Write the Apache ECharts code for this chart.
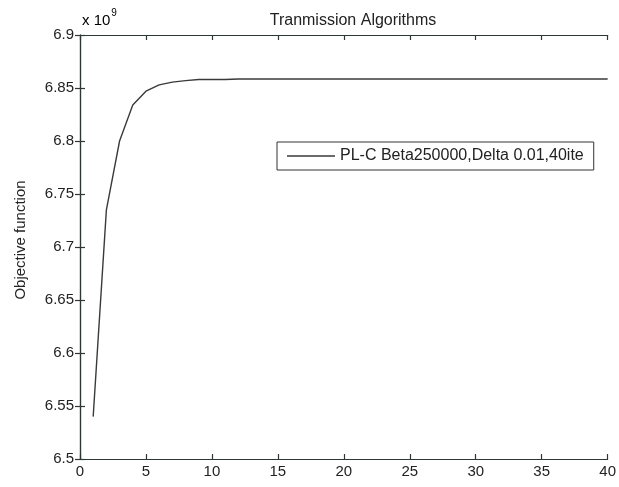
<!DOCTYPE html>
<html>
<head>
<meta charset="utf-8">
<script src="https://cdn.jsdelivr.net/npm/echarts@6/dist/echarts.min.js"></script>
<style>
  html, body { margin: 0; padding: 0; background: #fff; }
  #chart { width: 619px; height: 487px; }
</style>
</head>
<body>
<div id="chart"></div>
<script>
// Iterations of the transmission algorithm
const iterations = [1,2,3,4,5,6,7,8,9,10,11,12,13,14,15,16,17,18,19,20,21,22,23,24,25,26,27,28,29,30,31,32,33,34,35,36,37,38,39,40];
// Objective function value (x 10^9) per iteration
const objective = [6.540,6.735,6.800,6.834,6.847,6.853,6.8555,6.857,6.858,6.858,6.858,6.8585,6.8585,6.8585,6.8585,6.8585,6.8585,6.8585,6.8585,6.8585,6.8585,6.8585,6.8585,6.8585,6.8585,6.8585,6.8585,6.8585,6.8585,6.8585,6.8585,6.8585,6.8585,6.8585,6.8585,6.8585,6.8585,6.8585,6.8585,6.8585];
const seriesName = 'PL-C Beta250000,Delta 0.01,40ite';
const xTicks = { min: 0, max: 40, step: 5 };
const yTicks = { min: 6.5, max: 6.9, step: 0.05 };

const axisColor = '#2e3833';
const font = 'Liberation Sans, Arial, sans-serif';
const fmtY = v => String(parseFloat(v.toFixed(2)));

const chart = echarts.init(document.getElementById('chart'), null, { renderer: 'canvas' });
const commonAxisLine = { show: true, lineStyle: { color: axisColor, width: 1.2 } };
const commonTick = { show: true, inside: true, length: 5, lineStyle: { color: axisColor, width: 1.2 } };

chart.setOption({
  animation: false,
  backgroundColor: '#ffffff',
  title: {
    text: 'Tranmission Algorithms',
    left: 348, top: 8, textAlign: 'center',
    textStyle: { fontFamily: font, fontSize: 16, fontWeight: 'normal', color: '#222' }
  },
  legend: {
    left: 277, top: 142,
    padding: [6, 10, 6, 10],
    borderColor: '#333', borderWidth: 1, backgroundColor: '#fff',
    itemWidth: 48, itemHeight: 1.4, itemGap: 8,
    icon: 'rect',
    textStyle: { fontFamily: font, fontSize: 16, color: '#222' },
    data: [seriesName]
  },
  grid: { left: 80, right: 3, top: 35, bottom: 28, containLabel: false },
  xAxis: [
    {
      type: 'value', min: xTicks.min, max: xTicks.max, interval: xTicks.step,
      axisLine: commonAxisLine, axisTick: commonTick, splitLine: { show: false },
      axisLabel: { fontFamily: font, fontSize: 15, color: '#222', margin: 5 }
    },
    {
      type: 'value', position: 'top', min: xTicks.min, max: xTicks.max, interval: xTicks.step,
      axisLine: commonAxisLine, axisTick: commonTick, splitLine: { show: false },
      axisLabel: { show: false }
    }
  ],
  yAxis: [
    {
      type: 'value', min: yTicks.min, max: yTicks.max, interval: yTicks.step,
      axisLine: commonAxisLine, axisTick: commonTick, splitLine: { show: false },
      axisLabel: { fontFamily: font, fontSize: 15, color: '#222', margin: 6, formatter: fmtY }
    },
    {
      type: 'value', position: 'right', min: yTicks.min, max: yTicks.max, interval: yTicks.step,
      axisLine: commonAxisLine, axisTick: commonTick, splitLine: { show: false },
      axisLabel: { show: false }
    }
  ],
  graphic: [
    {
      type: 'text', left: 82, top: 8,
      style: {
        text: '{b|x 10}{s|9}',
        rich: {
          b: { fontFamily: font, fontSize: 15, color: '#222', padding: [8, 0, 0, 0] },
          s: { fontFamily: font, fontSize: 10, color: '#222', padding: [0, 0, 8, 1] }
        }
      }
    },
    {
      type: 'text', x: 21, y: 240, rotation: Math.PI / 2,
      style: {
        text: 'Objective function',
        fontFamily: font, fontSize: 15, fill: '#222',
        align: 'center', verticalAlign: 'middle'
      }
    }
  ],
  series: [
    {
      name: seriesName,
      type: 'line',
      data: iterations.map((x, i) => [x, objective[i]]),
      showSymbol: false, symbol: 'none',
      lineStyle: { color: '#3a3a3a', width: 1.4 },
      itemStyle: { color: '#3a3a3a' }
    }
  ]
});
</script>
</body>
</html>
